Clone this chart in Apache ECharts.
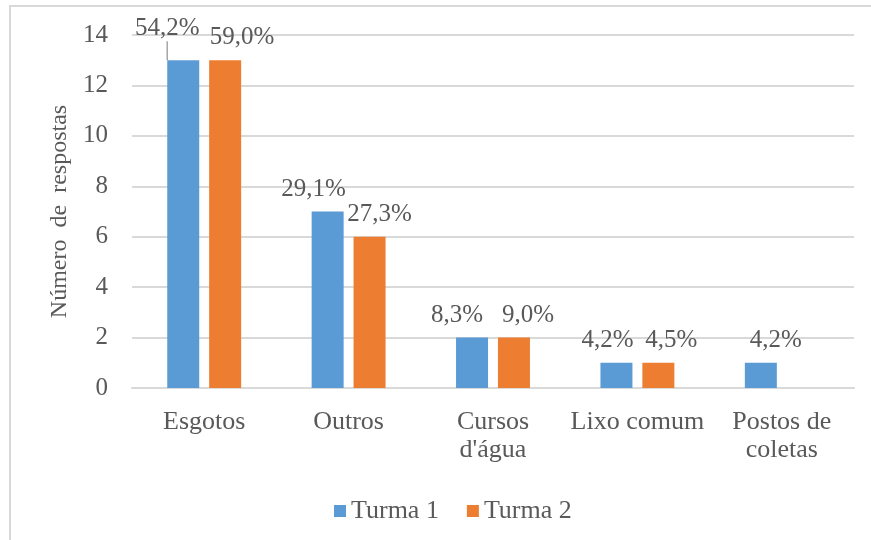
<!DOCTYPE html>
<html>
<head>
<meta charset="utf-8">
<script src="https://cdn.jsdelivr.net/npm/echarts@6/dist/echarts.min.js"></script>
<style>
  html, body { margin: 0; padding: 0; background: #fff; }
  #chart { width: 871px; height: 540px; }
</style>
</head>
<body>
<div id="chart"></div>
<script>
  // dados do gráfico
  const categories = ['Esgotos', 'Outros', 'Cursos\nd\'água', 'Lixo comum', 'Postos de\ncoletas']
  const turma1 = [13, 7, 2, 1, 1]
  const turma2 = [13, 6, 2, 1, null]
  const turma1Pct = ['54,2%', '29,1%', '8,3%', '4,2%', '4,2%']
  const turma2Pct = ['59,0%', '27,3%', '9,0%', '4,5%', '']
  const yTicks = { min: 0, max: 14, interval: 2 }

  const textColor = '#595959'
  const fontFamily = '"Liberation Serif", "DejaVu Serif", serif'

  // deslocamento horizontal dos rótulos (como no Excel)
  const shift1 = [-16, -14, -15, -9, 15]
  const shift2 = [17, 10, 14, 13, 0]

  const chart = echarts.init(document.getElementById('chart'))

  const labelStyle = pcts => ({
    show: true,
    position: 'top',
    distance: 10,
    color: textColor,
    fontFamily,
    fontSize: 25,
    formatter: p => pcts[p.dataIndex]
  })

  chart.setOption({
    animation: false,
    textStyle: { fontFamily },
    graphic: [
      {
        type: 'rect',
        shape: { x: 10, y: 6, width: 900, height: 600 },
        style: { fill: 'none', stroke: '#D9D9D9', lineWidth: 2 },
        z: -1
      }
    ],
    grid: { left: 132, right: 17, top: 35, bottom: 152 },
    legend: {
      top: 493,
      left: 329,
      icon: 'rect',
      itemWidth: 12,
      itemHeight: 12,
      itemGap: 28,
      textStyle: { color: textColor, fontFamily, fontSize: 26 },
      data: ['Turma 1', 'Turma 2']
    },
    xAxis: {
      type: 'category',
      data: categories,
      axisLine: { lineStyle: { color: '#D9D9D9', width: 2 } },
      axisTick: { show: false },
      axisLabel: {
        color: textColor,
        fontFamily,
        fontSize: 26,
        lineHeight: 28,
        margin: 20,
        interval: 0
      }
    },
    yAxis: {
      type: 'value',
      min: yTicks.min,
      max: yTicks.max,
      interval: yTicks.interval,
      name: 'Número  de  respostas',
      nameLocation: 'middle',
      nameGap: 60,
      nameTextStyle: { color: textColor, fontFamily, fontSize: 24 },
      axisLine: { show: false },
      axisTick: { show: false },
      axisLabel: { color: textColor, fontFamily, fontSize: 25, margin: 24 },
      splitLine: { lineStyle: { color: '#D9D9D9', width: 2 } }
    },
    series: [
      {
        name: 'Turma 1',
        type: 'bar',
        barWidth: 32,
        barGap: '31%',
        data: turma1.map((v, i) => (i === 0 ? { value: v, labelLine: { show: true } } : v)),
        itemStyle: { color: '#5B9BD5' },
        label: labelStyle(turma1Pct),
        labelLine: { lineStyle: { color: '#A6A6A6', width: 1.5 } },
        labelLayout: p => ({ dx: shift1[p.dataIndex], dy: p.dataIndex === 0 ? -9 : 0 })
      },
      {
        name: 'Turma 2',
        type: 'bar',
        barWidth: 32,
        data: turma2,
        itemStyle: { color: '#ED7D31' },
        label: labelStyle(turma2Pct),
        labelLayout: p => ({ dx: shift2[p.dataIndex] })
      }
    ]
  })
</script>
</body>
</html>
